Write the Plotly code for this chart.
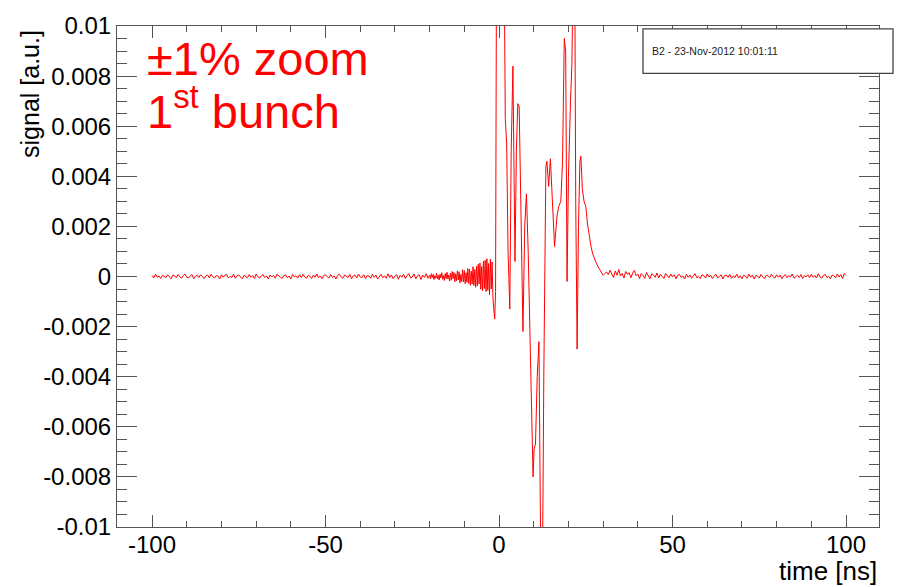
import numpy as np
import plotly.graph_objects as go

UNIT = 1e-5  # values below are in units of 1e-5 a.u.

# baseline before the bunch: t = -100 ... -20.5 ns, 0.5 ns sampling
pre_noise = [
    4, -6, 9, -3, 2, -8, 5, 1, -4, 7, -2, -9, 6, 3, -5, 8, -1, -7, 4, 10,
    -3, -6, 2, 8, -9, 1, 5, -4, 7, -2, -8, 3, 6, -5, 9, -1, -6, 4, 2, -10,
    7, -3, 5, 8, -6, 1, -4, 9, -7, 3, 6, -2, -9, 5, 1, -5, 8, -3, 4, -8,
    10, -1, -6, 3, 7, -4, 2, -9, 6, -2, 5, -7, 9, 1, -3, -8, 4, 6, -5, 2,
    -10, 8, -1, 3, -6, 7, -4, 9, -2, -7, 5, 1, -8, 6, -3, 10, -5, 2, -9, 4,
    7, -1, -6, 8, -4, 3, -10, 5, 9, -2, -7, 6, 1, -4, 8, -9, 3, 5, -6, 10,
    -2, -5, 7, -8, 4, 2, -7, 9, -3, 6, -10, 1, 8, -5, 3, -7, 11, -4, 6, -9,
    2, 7, -11, 5, -3, 9, -8, 4, 12, -6, -2, 10, -9, 3, 7, -12, 6, -4, 11, -7,
]

# precursor ringing: t = -20 ... -1.5 ns, 0.25 ns sampling
precursor = [
    6, -9, 11, -4, 8, -12, 3, -7, 13, -10,
    5, -14, 9, -6, 15, -11, 4, -16, 12, -8,
    17, -10, 6, -18, 14, -15, 20, -9, 16, -21,
    11, -17, 23, -14, 19, -25, 8, -20, 27, -22,
    24, -29, 15, -23, 32, -28, 30, -35, 21, -30,
    39, -36, 28, -43, 41, -38, 49, -30, 54, -51,
    40, -57, 61, -48, 65, -60, 71, -55, 52, -74,
    69, -50, 58, -90, -120,
]

# main bunch signal (time [ns], value [1e-5 a.u.])
sig_t = [-1.25, -1.0, -0.9, -0.7, 1.4, 1.8, 2.2, 2.6, 3.1, 3.5, 4.0, 4.3, 4.6,
         5.0, 5.4, 5.8, 6.1, 6.5, 6.9, 7.4, 7.9, 8.4, 9.0, 9.4, 9.8, 10.1,
         10.5, 11.0, 11.5, 12.0, 12.5, 12.9, 13.2, 13.5, 13.8, 14.3, 14.8,
         15.3, 16.0, 16.7, 17.2, 17.8, 18.3, 18.8, 19.2, 19.6, 20.0, 20.6,
         21.0, 21.4, 21.8, 22.1, 22.5, 22.9, 23.3, 23.6, 24.0, 24.5, 25.0,
         25.5, 26.0, 26.5, 27.0, 27.5, 28.0, 28.5, 29.0, 29.5, 30.0, 30.5]
sig_v = [-170, -60, 540, 1400, 1400, 630, 530, 100, -130, 500, 840, 400, 60,
         500, 690, 680, 420, 0, -220, 200, 330, 100, -250, -490, -800, -690,
         -670, -400, -260, -1100, -1200, -400, 100, 440, 460, 360, 470,
         300, 120, 240, 280, 300, 460, 950, 900, -20, 400, 700,
         850, 1300, 1300, 300, -290, 200, 460, 480, 350, 300, 280,
         210, 160, 120, 90, 70, 55, 40, 30, 15, 5, 12]

# baseline after the bunch: t = 31 ... 100 ns, 0.5 ns sampling
post_noise = [
    18, 8, 25, 10, -4, 22, 5, 28, 2, 12, -6, 20, 8, 15, -5, 14, 24, 3, 10, -8,
    12, 4, -7, 16, 2, -9, 11, 6, -3, 14, -6, 9, 1, -8, 12, 3, -5, 10, -2, 7,
    -9, 5, 8, -4, 2, -10, 9, -3, 6, -7, 4, 11, -5, 1, -8, 7, 3, -6, 10, -2,
    5, -8, 2, 9, -5, -1, 7, -10, 4, 6, -3, 8, -7, 2, -4, 10, -6, 3, -9, 5,
    1, -7, 9, -3, 6, -10, 4, 2, -6, 8, -2, -8, 5, 3, -4, 9, -1, -6, 7, -3,
    6, -9, 2, 8, -5, 4, -2, 10, -7, 1, 5, -4, 8, -8, 3, -1, 7, -5, 9, -3,
    4, -6, 11, -2, -7, 5, 8, -4, 1, -9, 6, 3, -5, 10, -2, 7, -8, 12, 4,
]

x_ticks = [-100, -50, 0, 50, 100]
x_ticktext = ["-100", "-50", "0", "50", "100"]
y_ticks = [-0.01, -0.008, -0.006, -0.004, -0.002, 0, 0.002, 0.004, 0.006, 0.008, 0.01]
y_ticktext = ["-0.01", "-0.008", "-0.006", "-0.004", "-0.002", "0",
              "0.002", "0.004", "0.006", "0.008", "0.01"]

t = np.concatenate([
    np.linspace(-100, -20.5, len(pre_noise)),
    np.linspace(-20, -1.5, len(precursor)),
    np.array(sig_t),
    np.linspace(31, 100, len(post_noise)),
])
v = np.concatenate([pre_noise, precursor, sig_v, post_noise]).astype(float) * UNIT

W, H = 899, 587
L, R, T, B = 117, 20, 20, 60
PW, PH = W - L - R, H - T - B


def px(xp):
    return (xp - L) / PW


def py(yp):
    return (H - B - yp) / PH


FONT = "Liberation Sans, Arial, Helvetica, sans-serif"
FRAME = "#555555"

fig = go.Figure()
fig.add_trace(go.Scatter(x=t, y=v, mode="lines",
                         line=dict(color="#ff0000", width=1), hoverinfo="skip"))

fig.update_layout(
    width=W, height=H,
    margin=dict(l=L, r=R, t=T, b=B, pad=0),
    paper_bgcolor="white", plot_bgcolor="white",
    showlegend=False,
    font=dict(family=FONT, color="black"),
    xaxis=dict(
        range=[-110.1, 109.5], tickmode="array", tickvals=x_ticks, ticktext=x_ticktext,
        ticks="inside", ticklen=12, tickwidth=1, tickcolor=FRAME,
        showline=True, linecolor=FRAME, linewidth=1, mirror="allticks",
        showgrid=False, zeroline=False, ticklabelstandoff=-4,
        tickfont=dict(size=24, family=FONT, color="black"),
        minor=dict(tickmode="linear", tick0=0, dtick=10, ticks="inside",
                   ticklen=6, tickcolor=FRAME, showgrid=False),
    ),
    yaxis=dict(
        range=[-0.01, 0.01], tickmode="array", tickvals=y_ticks, ticktext=y_ticktext,
        ticks="inside", ticklen=20, tickwidth=1, tickcolor=FRAME,
        showline=True, linecolor=FRAME, linewidth=1, mirror="allticks",
        showgrid=False, zeroline=False,
        tickfont=dict(size=24, family=FONT, color="black"),
        minor=dict(tickmode="linear", tick0=0, dtick=0.0005, ticks="inside",
                   ticklen=10, tickcolor=FRAME, showgrid=False),
    ),
)

# stats-like box in the top-right corner
fig.add_shape(type="rect", xref="paper", yref="paper",
              x0=px(643), x1=px(893), y0=py(68), y1=py(23),
              fillcolor="white", line=dict(color="#444444", width=1.3), layer="above")

annotations = [
    dict(text="B2 - 23-Nov-2012 10:01:11", x=px(650), y=py(45),
         xanchor="left", yanchor="middle", font=dict(size=10.5, color="#222222")),
    dict(text="±1% zoom", x=px(145), y=py(53),
         xanchor="left", yanchor="middle", font=dict(size=47, color="#ff0000")),
    dict(text="1<sup>st</sup> bunch", x=px(145), y=py(103),
         xanchor="left", yanchor="middle", font=dict(size=47, color="#ff0000")),
    dict(text="signal [a.u.]", textangle=-90, x=px(30), y=py(22),
         xanchor="center", yanchor="top", font=dict(size=25, color="black")),
    dict(text="time [ns]", x=px(879), y=py(572),
         xanchor="right", yanchor="middle", font=dict(size=26, color="black")),
]
for a in annotations:
    fig.add_annotation(xref="paper", yref="paper", showarrow=False,
                       font_family=FONT, **{k: val for k, val in a.items()})

fig.write_html("out.html")
